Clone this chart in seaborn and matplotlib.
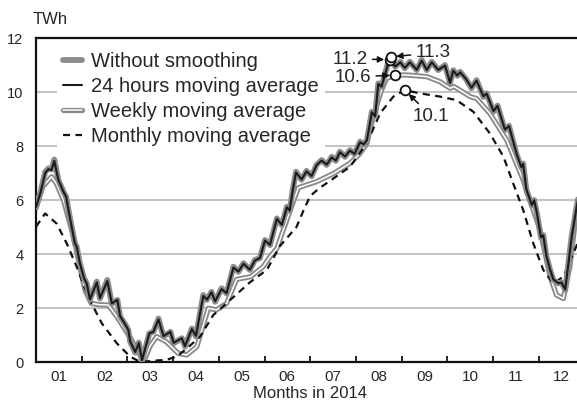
import numpy as np
import pandas as pd
import matplotlib
matplotlib.use("Agg")
import matplotlib.pyplot as plt
import seaborn as sns
from matplotlib import patheffects as pe

# ---------------- data (months since 1 Jan 2014, TWh) ----------------
jag_month = [0.00, 0.10, 0.20, 0.27, 0.34, 0.40, 0.49, 0.60, 0.66, 0.71, 0.78, 0.85, 0.89, 0.96,
             1.05, 1.11, 1.18, 1.33, 1.40, 1.56, 1.66, 1.78, 1.84, 1.95, 2.02, 2.06, 2.17, 2.25,
             2.32, 2.48, 2.57, 2.68, 2.79, 2.94, 3.01, 3.19, 3.26, 3.41, 3.50, 3.66, 3.74, 3.84,
             3.92, 4.06, 4.17, 4.32, 4.43, 4.54, 4.68, 4.79, 4.90, 5.01, 5.12, 5.27, 5.38, 5.49,
             5.55, 5.62, 5.69, 5.81, 5.92, 6.03, 6.14, 6.25, 6.36, 6.47, 6.56, 6.65, 6.76, 6.87,
             6.97, 7.09, 7.17, 7.24, 7.35, 7.42, 7.49, 7.56, 7.64, 7.71, 7.75, 7.86, 7.97, 8.07,
             8.18, 8.33, 8.44, 8.55, 8.66, 8.80, 8.95, 9.06, 9.13, 9.22, 9.28, 9.40, 9.53, 9.64,
             9.79, 9.86, 10.01, 10.10, 10.26, 10.35, 10.45, 10.52, 10.62, 10.66, 10.73, 10.85,
             10.90, 10.96, 11.05, 11.10, 11.17, 11.25, 11.32, 11.43, 11.50, 11.58, 11.65, 11.72,
             11.83, 11.90]
raw_twh = [5.74, 6.30, 7.04, 7.17, 7.13, 7.50, 6.74, 6.31, 6.12, 5.63, 5.01, 4.40, 4.27, 3.66,
           3.10, 2.91, 2.30, 2.98, 2.35, 3.04, 2.15, 2.30, 1.68, 1.40, 1.19, 0.75, 0.35, 0.72,
           0.05, 1.06, 1.12, 1.61, 0.94, 1.12, 0.69, 0.88, 0.57, 1.24, 0.95, 2.48, 2.30, 2.60,
           2.23, 2.73, 2.54, 3.53, 3.34, 3.66, 3.41, 3.78, 3.85, 4.52, 4.33, 5.32, 5.07, 5.75,
           5.60, 6.40, 7.05, 6.75, 7.08, 6.88, 7.30, 7.48, 7.30, 7.60, 7.45, 7.79, 7.60, 7.85,
           7.70, 8.16, 8.05, 8.22, 9.27, 9.10, 10.32, 10.20, 10.69, 11.12, 11.30, 10.94, 11.12, 10.88,
           11.12, 10.81, 11.19, 10.81, 11.12, 10.81, 11.00, 10.32, 10.81, 10.60, 10.75, 10.50, 10.14,
           10.44, 9.82, 9.95, 9.27, 9.50, 8.59, 8.75, 8.10, 7.67, 7.20, 7.35, 6.37, 5.80,
           6.00, 5.51, 4.60, 4.70, 3.90, 3.41, 3.04, 2.91, 2.95, 2.67, 3.66, 4.64, 5.75, 6.40]
h24_twh = [5.74, 6.28, 7.00, 7.14, 7.11, 7.45, 6.74, 6.31, 6.12, 5.63, 5.01, 4.40, 4.27, 3.66,
           3.10, 2.91, 2.32, 2.95, 2.37, 3.00, 2.17, 2.30, 1.70, 1.40, 1.19, 0.77, 0.37, 0.70,
           0.07, 1.06, 1.12, 1.58, 0.96, 1.12, 0.71, 0.88, 0.59, 1.22, 0.97, 2.45, 2.31, 2.58,
           2.25, 2.70, 2.55, 3.50, 3.35, 3.64, 3.42, 3.76, 3.85, 4.50, 4.34, 5.30, 5.08, 5.73,
           5.61, 6.38, 7.02, 6.76, 7.06, 6.89, 7.29, 7.46, 7.31, 7.58, 7.46, 7.77, 7.61, 7.83,
           7.71, 8.14, 8.06, 8.21, 9.25, 9.10, 10.30, 10.20, 10.66, 11.08, 11.20, 10.94, 11.10, 10.89,
           11.10, 10.82, 11.16, 10.82, 11.10, 10.82, 10.98, 10.34, 10.79, 10.61, 10.73, 10.50, 10.16,
           10.42, 9.84, 9.94, 9.29, 9.49, 8.61, 8.74, 8.12, 7.69, 7.22, 7.34, 6.39, 5.81,
           5.99, 5.53, 4.62, 4.69, 3.92, 3.42, 3.06, 2.92, 2.94, 2.69, 3.64, 4.62, 5.73, 6.40]

week_month = [0.00, 0.15, 0.34, 0.45, 0.60, 0.82, 1.07, 1.21, 1.40, 1.58, 1.77, 2.07, 2.25, 2.36,
              2.50, 2.64, 2.85, 3.11, 3.30, 3.52, 3.77, 3.95, 4.17, 4.39, 4.70, 4.97, 5.12, 5.27,
              5.41, 5.59, 5.74, 5.80, 6.14, 6.51, 6.87, 7.09, 7.24, 7.38, 7.56, 7.67, 7.86, 8.11,
              8.55, 8.84, 9.06, 9.15, 9.50, 9.64, 9.93, 10.30, 10.66, 11.03, 11.25, 11.39, 11.54,
              11.68, 11.83, 11.90]
week_twh = [5.70, 6.50, 6.86, 6.60, 6.00, 4.64, 2.67, 2.17, 2.12, 2.11, 1.68, 0.88, 0.32, 0.03,
            0.60, 0.94, 0.75, 0.32, 0.26, 0.57, 1.99, 1.93, 2.17, 3.06, 3.16, 3.53, 3.90, 4.20,
            4.89, 5.75, 6.45, 6.49, 6.68, 6.98, 7.36, 7.72, 8.10, 9.09, 10.07, 10.50, 10.63, 10.63,
            10.57, 10.38, 10.14, 10.20, 9.83, 9.76, 9.21, 8.22, 6.74, 4.89, 3.16, 2.48, 2.35,
            3.53, 5.63, 6.30]

month_month = [0.00, 0.20, 0.45, 0.67, 0.89, 1.14, 1.44, 1.77, 2.06, 2.28, 2.60, 2.85, 3.08, 3.30,
               3.59, 3.88, 4.25, 4.68, 5.05, 5.34, 5.70, 5.85, 6.00, 6.21, 6.51, 6.87, 7.24, 7.53,
               7.82, 8.07, 8.40, 8.84, 9.20, 9.57, 9.93, 10.23, 10.44, 10.66, 10.88, 11.10, 11.32,
               11.54, 11.79, 11.90]
month_twh = [5.01, 5.50, 5.13, 4.40, 3.53, 2.42, 1.43, 0.69, 0.20, 0.00, 0.05, 0.08, 0.20, 0.50,
             0.94, 1.74, 2.30, 2.95, 3.41, 4.30, 5.00, 5.60, 6.15, 6.45, 6.80, 7.23, 8.10, 9.21,
             9.83, 10.07, 9.95, 9.83, 9.70, 9.27, 8.47, 7.60, 6.62, 5.63, 4.40, 3.41, 2.91,
             3.16, 4.15, 4.60]

month_labels = ["01", "02", "03", "04", "05", "06", "07", "08", "09", "10", "11", "12"]
y_ticks = [0, 2, 4, 6, 8, 10, 12]

# annotated peaks: (label, month, value)
peak_labels = ["11.2", "11.3", "10.6", "10.1"]
peak_month = [7.74, 7.76, 7.86, 8.07]
peak_twh = [11.20, 11.30, 10.63, 10.07]

# ---------------- figure ----------------
sns.set_theme(style="white")
plt.rcParams['font.family'] = ['Liberation Sans', 'DejaVu Sans']

fig = plt.figure(figsize=(5.77, 4.01), dpi=100)
ax = fig.add_axes([36 / 577, 39 / 401, 548.4 / 577, 324 / 401])

df_raw = pd.DataFrame({"month": jag_month, "twh": raw_twh})
df_h24 = pd.DataFrame({"month": jag_month, "twh": h24_twh})
df_week = pd.DataFrame({"month": week_month, "twh": week_twh})
df_mon = pd.DataFrame({"month": month_month, "twh": month_twh})

sns.lineplot(data=df_week, x="month", y="twh", ax=ax, color="white", lw=1.1,
             label="Weekly moving average", zorder=2,
             path_effects=[pe.Stroke(linewidth=3.8, foreground="#8a8a8a"), pe.Normal()])
sns.lineplot(data=df_mon, x="month", y="twh", ax=ax, color="#111111", lw=1.6,
             label="Monthly moving average", zorder=3)
sns.lineplot(data=df_raw, x="month", y="twh", ax=ax, color="#8c8c8c", lw=4.2,
             label="Without smoothing", zorder=4)
sns.lineplot(data=df_h24, x="month", y="twh", ax=ax, color="#1a1a1a", lw=1.5,
             label="24 hours moving average", zorder=5)
ax.lines[1].set_linestyle((0, (3.2, 2.4)))

ax.plot(peak_month, peak_twh, ls="none", marker="o", ms=7, mfc="white", mec="#111111",
        mew=1.3, zorder=7)

arrow = dict(arrowstyle="-|>", color="#111111", lw=1.1, mutation_scale=9,
             shrinkA=1, shrinkB=4)
afs = 13.5
ax.annotate(peak_labels[0], xy=(peak_month[0], peak_twh[0]), xytext=(7.26, 11.22),
            ha="right", va="center", fontsize=afs, arrowprops=arrow, zorder=8)
ax.annotate(peak_labels[1], xy=(peak_month[1], peak_twh[1]), xytext=(8.30, 11.45),
            ha="left", va="center", fontsize=afs, arrowprops=arrow, zorder=8)
ax.annotate(peak_labels[2], xy=(peak_month[2], peak_twh[2]), xytext=(7.34, 10.55),
            ha="right", va="center", fontsize=afs, arrowprops=arrow, zorder=8)
ax.annotate(peak_labels[3], xy=(peak_month[3], peak_twh[3]), xytext=(8.25, 9.10),
            ha="left", va="center", fontsize=afs, arrowprops=arrow, zorder=8)

# axes styling
ax.set_xlim(0, 12)
ax.set_ylim(0, 12)
ax.set_yticks(y_ticks)
ax.set_yticklabels([str(v) for v in y_ticks], fontsize=10.5)
ax.yaxis.grid(True, color="#c4c4c4", lw=1.5)
ax.xaxis.grid(False)
ax.set_axisbelow(True)

ax.set_xticks(range(1, 12))
ax.set_xticklabels([])
ax.set_xticks(np.arange(0.5, 12, 1), minor=True)
ax.set_xticklabels(month_labels, minor=True, fontsize=11)
ax.tick_params(axis="x", which="major", bottom=True, direction="in", length=4,
               width=1.3, color="#111111")
ax.tick_params(axis="x", which="minor", bottom=True, length=0, pad=6)
ax.tick_params(axis="y", left=False, length=0, pad=9)

for side in ["left", "bottom", "top"]:
    ax.spines[side].set_color("#111111")
    ax.spines[side].set_linewidth(1.6)
ax.spines["right"].set_visible(False)

ax.set_xlabel("Months in 2014", fontsize=12, labelpad=1)
ax.set_ylabel("")
fig.text(33 / 577, 1 - 20 / 401, "TWh", fontsize=12, ha="left", va="center")

handles, labels = ax.get_legend_handles_labels()
order = ["Without smoothing", "24 hours moving average", "Weekly moving average",
         "Monthly moving average"]
hmap = dict(zip(labels, handles))
leg = ax.legend([hmap[k] for k in order], order, loc="upper left",
                bbox_to_anchor=(0.038, 0.975), fontsize=14.5, frameon=True,
                facecolor="white", edgecolor="none", framealpha=1, fancybox=False,
                handlelength=0.95, handletextpad=0.45, labelspacing=0.3,
                borderpad=0.3, borderaxespad=0)
leg.set_zorder(6)

fig.savefig("out.png", dpi=100)
